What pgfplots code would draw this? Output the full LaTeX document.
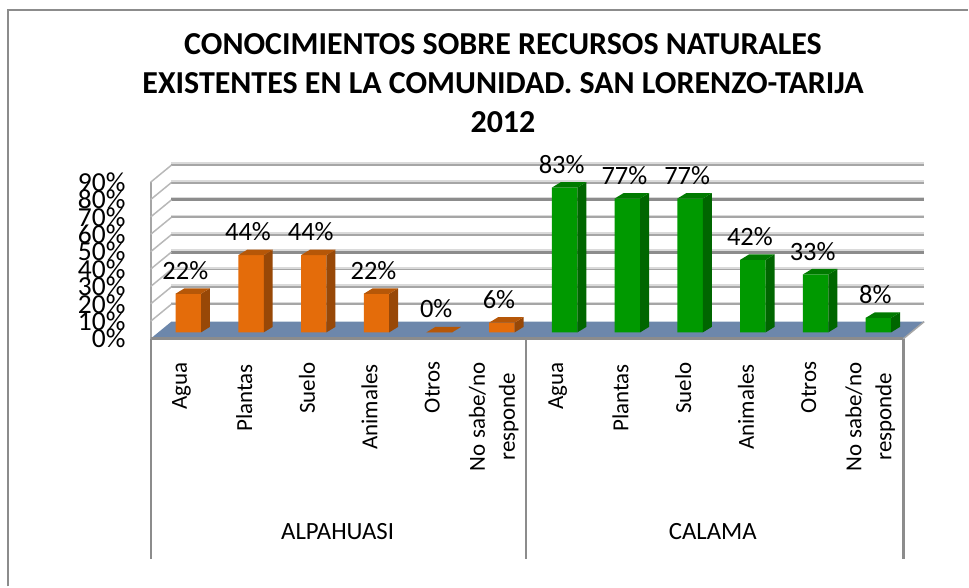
\documentclass[border=0pt]{standalone}
\usepackage{pgfplots}
\pgfplotsset{compat=1.18}
\usepackage{fontspec}
\setmainfont{Carlito}
\definecolor{orF}{HTML}{E46C0A}
\definecolor{orS}{HTML}{984807}
\definecolor{orT}{HTML}{B65708}
\definecolor{grF}{HTML}{009900}
\definecolor{grS}{HTML}{006600}
\definecolor{grT}{HTML}{007A00}
\definecolor{floorc}{HTML}{6D87AB}
\definecolor{gridc}{HTML}{A6A6A6}
\definecolor{gridd}{HTML}{8C8C8C}
\definecolor{gridl}{HTML}{DADADA}
\pgfplotstableread{
i v
0 22.2
1 44.4
2 44.4
3 22.2
4 0
5 5.6
}\alp
\pgfplotstableread{
i v
6 83.3
7 77.0
8 77.0
9 41.7
10 33.3
11 8.3
}\cal
% one bar's side and top faces: x, value, side colour, top colour
\newcommand{\faces}[4]{%
 \addplot[fill=#3,draw=none,forget plot] coordinates {(#1+0.203,0) (#1+0.346,3.16) (#1+0.346,#2+3.16) (#1+0.203,#2)} -- cycle;
 \addplot[fill=#4,draw=none,forget plot] coordinates {(#1-0.203,#2) (#1+0.203,#2) (#1+0.346,#2+3.16) (#1-0.06,#2+3.16)} -- cycle;
}
\begin{document}
\begin{tikzpicture}[x=1pt,y=1pt]
\path (0,0) rectangle (969,587);
\draw[gridd,line width=2pt] (8,0) -- (8,577) -- (969,577);
\node[font=\fontsize{32}{39}\selectfont\bfseries,align=center,anchor=north] at (503.5,587-30)
 {CONOCIMIENTOS SOBRE RECURSOS NATURALES\\EXISTENTES EN LA COMUNIDAD. SAN LORENZO-TARIJA\\2012};
% back wall
\begin{axis}[at={(171.5pt,265pt)},anchor=south west,scale only axis,width=753.6pt,height=156.6pt,
 xmin=-0.6,xmax=11.4,ymin=0,ymax=90,axis lines=none,clip=false]
 \pgfplotsinvokeforeach{10,20,30,40,50,60,70,80,90}{
  \addplot[gridl,line width=2pt,forget plot] coordinates {(-0.6,#1+1) (11.4,#1+1)};}
 \pgfplotsinvokeforeach{10,20,30,50,60,80,90}{
  \addplot[gridc,line width=1.8pt,forget plot] coordinates {(-0.6,#1) (11.4,#1)};}
 \pgfplotsinvokeforeach{40,70}{
  \addplot[gridd,line width=3pt,forget plot] coordinates {(-0.6,#1) (11.4,#1)};}
\end{axis}
% front plane: floor, value axis, category axis
\begin{axis}[at={(150.8pt,248pt)},anchor=south west,scale only axis,width=753.6pt,height=156.6pt,
 xmin=-0.6,xmax=11.4,ymin=0,ymax=90,clip=false,
 axis x line=none,axis y line=left,axis line style={gridc,line width=2pt,-},
 ytick={0,10,...,90},yticklabel={\pgfmathprintnumber{\tick}\%},
 /pgf/number format/assume math mode=true,major tick length=0pt,
 yticklabel style={font=\fontsize{27.5}{27.5}\selectfont,inner sep=0pt,xshift=-25pt},
]
 \addplot[fill=floorc,draw=none,forget plot] coordinates {(-0.6,0) (11.4,0) (11.73,9.77) (-0.27,9.77)} -- cycle;
 \addplot[gridd,line width=2.5pt,forget plot] coordinates {(-0.6,0) (11.4,0)};
 \pgfplotsinvokeforeach{10,20,30,40,50,60,70,80,90}{
  \addplot[gridc!80,line width=1.5pt,forget plot] coordinates {(-0.6,#1) (-0.27,#1+9.77)};}
 \addplot[gridc,line width=1.5pt,forget plot] coordinates {(11.4,0) (11.73,9.77)};
 % separators
 \addplot[gridd,line width=2pt,forget plot] coordinates {(-0.6,0) (-0.6,-126.7)};
 \addplot[gridd,line width=2pt,forget plot] coordinates {(5.39,0) (5.39,-126.7)};
 \addplot[gridd,line width=2.5pt,forget plot] coordinates {(11.4,0) (11.4,-126.7)};
 % category labels
 \pgfplotsinvokeforeach{0,6}{
 \node[rotate=90,anchor=east,inner sep=0pt,font=\fontsize{23}{30}\selectfont] at (axis cs:#1-0.11,-13.5) {Agua};
 \node[rotate=90,anchor=east,inner sep=0pt,font=\fontsize{23}{30}\selectfont] at (axis cs:#1+0.89,-14.5) {Plantas};
 \node[rotate=90,anchor=east,inner sep=0pt,font=\fontsize{23}{30}\selectfont] at (axis cs:#1+1.89,-13.5) {Suelo};
 \node[rotate=90,anchor=east,inner sep=0pt,font=\fontsize{23}{30}\selectfont] at (axis cs:#1+2.89,-14.5) {Animales};
 \node[rotate=90,anchor=east,inner sep=0pt,font=\fontsize{23}{30}\selectfont] at (axis cs:#1+3.89,-13) {Otros};
 \node[rotate=90,anchor=east,inner sep=0pt,align=center,font=\fontsize{23}{30}\selectfont] at (axis cs:#1+4.87,-13.5) {No sabe/no\\responde};
 }
 \node[font=\fontsize{24.8}{26}\selectfont] at (axis cs:2.38,-111) {ALPAHUASI};
 \node[font=\fontsize{24.8}{26}\selectfont] at (axis cs:8.36,-111) {CALAMA};
\end{axis}
% bars
\begin{axis}[at={(150.8pt,254.3pt)},anchor=south west,scale only axis,width=753.6pt,height=156.6pt,
 xmin=-0.6,xmax=11.4,ymin=0,ymax=90,axis lines=none,clip=false,
 ybar,bar width=25.5pt,
 nodes near coords={\pgfmathprintnumber[fixed,precision=0]{\pgfplotspointmeta}\%},
 /pgf/number format/assume math mode=true,
 every node near coord/.append style={font=\fontsize{26.5}{26.5}\selectfont,xshift=-3pt,yshift=12pt,inner sep=2pt,anchor=south},
]
 \addplot[fill=orF,draw=none,bar shift=0pt] table[x=i,y=v]{\alp};
 \addplot[fill=grF,draw=none,bar shift=0pt] table[x=i,y=v]{\cal};
\end{axis}
\begin{axis}[at={(150.8pt,254.3pt)},anchor=south west,scale only axis,width=753.6pt,height=156.6pt,
 xmin=-0.6,xmax=11.4,ymin=0,ymax=90,axis lines=none,clip=false]
 \faces{0}{22.2}{orS}{orT}\faces{1}{44.4}{orS}{orT}\faces{2}{44.4}{orS}{orT}\faces{3}{22.2}{orS}{orT}\faces{4}{0}{orS}{orT}\faces{5}{5.6}{orS}{orT}
 \faces{6}{83.3}{grS}{grT}\faces{7}{77.0}{grS}{grT}\faces{8}{77.0}{grS}{grT}\faces{9}{41.7}{grS}{grT}\faces{10}{33.3}{grS}{grT}\faces{11}{8.3}{grS}{grT}
\end{axis}
\end{tikzpicture}
\end{document}
